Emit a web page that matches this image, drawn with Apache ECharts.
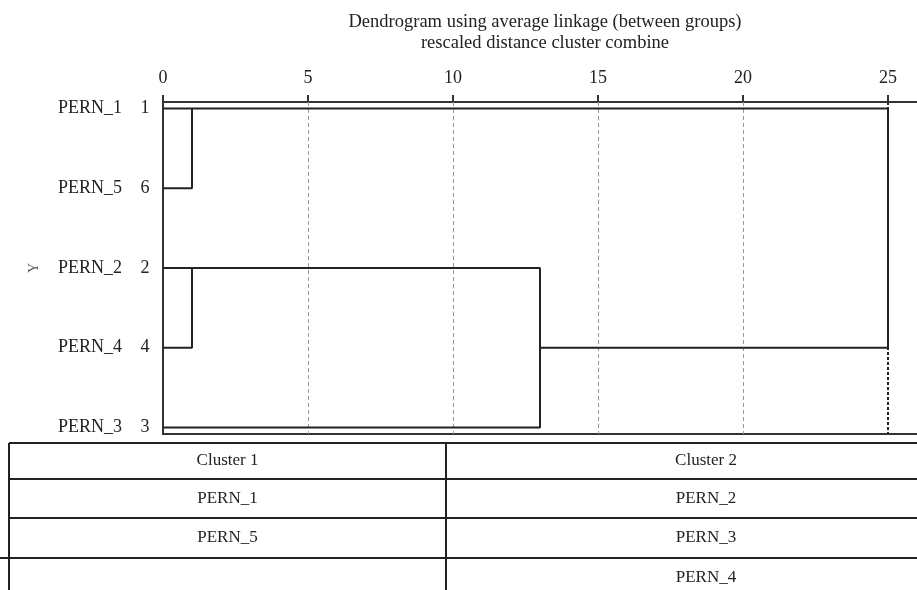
<!DOCTYPE html>
<html>
<head>
<meta charset="utf-8">
<script src="https://cdn.jsdelivr.net/npm/echarts@6/dist/echarts.min.js"></script>
<style>
html,body{margin:0;padding:0;background:#fff;}
#chart{width:917px;height:590px;}
</style>
</head>
<body>
<div id="chart"></div>
<script>
// ---- data ----
const titleLines = ['Dendrogram using average linkage (between groups)', 'rescaled distance cluster combine'];
const caseLabels = ['PERN_1', 'PERN_5', 'PERN_2', 'PERN_4', 'PERN_3'];
const caseNumbers = ['1', '6', '2', '4', '3'];
const distanceTicks = [0, 5, 10, 15, 20, 25];
// agglomeration steps: cluster A joins cluster B at rescaled distance, drawn afterwards on row
const mergeA = ['PERN_1', 'PERN_2', 'M2', 'M1'];
const mergeB = ['PERN_5', 'PERN_4', 'PERN_3', 'M3'];
const mergeHeight = [1, 1, 13, 25];
const mergeRow = ['PERN_1', 'PERN_2', 'PERN_4', 'PERN_1'];
const yAxisName = 'Y';
const tableHeaders = ['Cluster 1', 'Cluster 2'];
const cluster1Members = ['PERN_1', 'PERN_5'];
const cluster2Members = ['PERN_2', 'PERN_3', 'PERN_4'];

// ---- build dendrogram polylines ----
const FONT = '"Liberation Serif", "Times New Roman", serif';
const state = {};
caseLabels.forEach((c, i) => { state[c] = { row: i, start: 0 }; });
const mergeSeries = [];
mergeA.forEach((a, k) => {
  const A = state[a], B = state[mergeB[k]], h = mergeHeight[k];
  mergeSeries.push({
    type: 'line', xAxisIndex: 0, yAxisIndex: 0,
    data: [[A.start, A.row], [h, A.row], [h, B.row], [B.start, B.row]],
    symbol: 'none', silent: true, z: 5,
    lineStyle: { color: '#222', width: 2 }
  });
  state['M' + (k + 1)] = { row: caseLabels.indexOf(mergeRow[k]), start: h };
});

const lastTick = distanceTicks[distanceTicks.length - 1];
const gridMarks = distanceTicks.filter(v => v > 0 && v < lastTick).map(v => ({
  xAxis: v, lineStyle: { color: '#999', type: [4, 3], width: 1 }
}));
gridMarks.push({ xAxis: lastTick, lineStyle: { color: '#222', type: [3, 2], width: 2 } });
mergeSeries.push({
  type: 'line', data: [], xAxisIndex: 0, yAxisIndex: 0, silent: true, z: 2,
  markLine: { symbol: 'none', silent: true, label: { show: false }, data: gridMarks, animation: false }
});

// ---- table graphics ----
const lineC = '#222';
const tableTop = 443, rowH = [36, 39, 40, 40], colX = [9, 446], colCenter = [227.5, 706];
const rowsY = [tableTop];
rowH.forEach(h => rowsY.push(rowsY[rowsY.length - 1] + h));
const graphics = [];
graphics.push({ type: 'text', x: 545, y: 33, style: { text: titleLines.join('\n'), font: '18.5px ' + FONT, fill: '#222', align: 'center', verticalAlign: 'middle', lineHeight: 21 } });
for (let r = 0; r < 4; r++) {
  graphics.push({ type: 'line', shape: { x1: r === 3 ? 0 : colX[0], y1: rowsY[r], x2: 917, y2: rowsY[r] }, style: { stroke: lineC, lineWidth: 2 } });
}
colX.forEach(x => graphics.push({ type: 'line', shape: { x1: x, y1: tableTop, x2: x, y2: 590 }, style: { stroke: lineC, lineWidth: 2 } }));
const colsContent = [[tableHeaders[0]].concat(cluster1Members), [tableHeaders[1]].concat(cluster2Members)];
colsContent.forEach((col, ci) => {
  col.forEach((t, ri) => {
    graphics.push({ type: 'text', x: colCenter[ci], y: (rowsY[ri] + rowsY[ri + 1]) / 2, style: { text: t, font: '17px ' + FONT, fill: '#222', align: 'center', verticalAlign: 'middle' } });
  });
});

const chart = echarts.init(document.getElementById('chart'), null, { renderer: 'canvas' });
chart.setOption({
  animation: false,
  backgroundColor: '#fff',
  grid: { left: 163, right: 0, top: 102, bottom: 156, containLabel: false },
  xAxis: [{
    type: 'value', position: 'top', min: 0, max: 26, interval: 5,
    axisLine: { show: true, onZero: false, lineStyle: { color: '#333', width: 2 } },
    axisTick: { show: true, length: 7, lineStyle: { color: '#333', width: 2 }, customValues: distanceTicks },
    axisLabel: { customValues: distanceTicks, margin: 15, fontSize: 18, fontFamily: FONT, color: '#222',
      formatter: v => (v <= lastTick ? String(v) : '') },
    splitLine: { show: false }
  }, {
    type: 'value', position: 'bottom', min: 0, max: 26,
    axisLine: { show: true, onZero: false, lineStyle: { color: '#333', width: 2 } },
    axisTick: { show: false }, axisLabel: { show: false }, splitLine: { show: false }
  }],
  yAxis: {
    type: 'value', inverse: true, min: -0.083, max: caseLabels.length - 1 + 0.083,
    name: yAxisName, nameLocation: 'middle', nameRotate: 90, nameGap: 122,
    nameTextStyle: { fontSize: 14, color: '#555', fontFamily: FONT },
    axisLine: { show: true, onZero: false, lineStyle: { color: '#333', width: 2 } },
    axisTick: { show: false }, splitLine: { show: false },
    axisLabel: {
      customValues: caseLabels.map((c, i) => i), margin: 8,
      formatter: v => { const i = Math.round(v); return '{n|' + caseLabels[i] + '}{c|' + caseNumbers[i] + '}'; },
      rich: {
        n: { fontSize: 18, fontFamily: FONT, color: '#222', align: 'right', padding: [0, 13, 0, 0] },
        c: { fontSize: 18, fontFamily: FONT, color: '#222', width: 20, align: 'center' }
      }
    }
  },
  series: mergeSeries,
  graphic: graphics
});
</script>
</body>
</html>
